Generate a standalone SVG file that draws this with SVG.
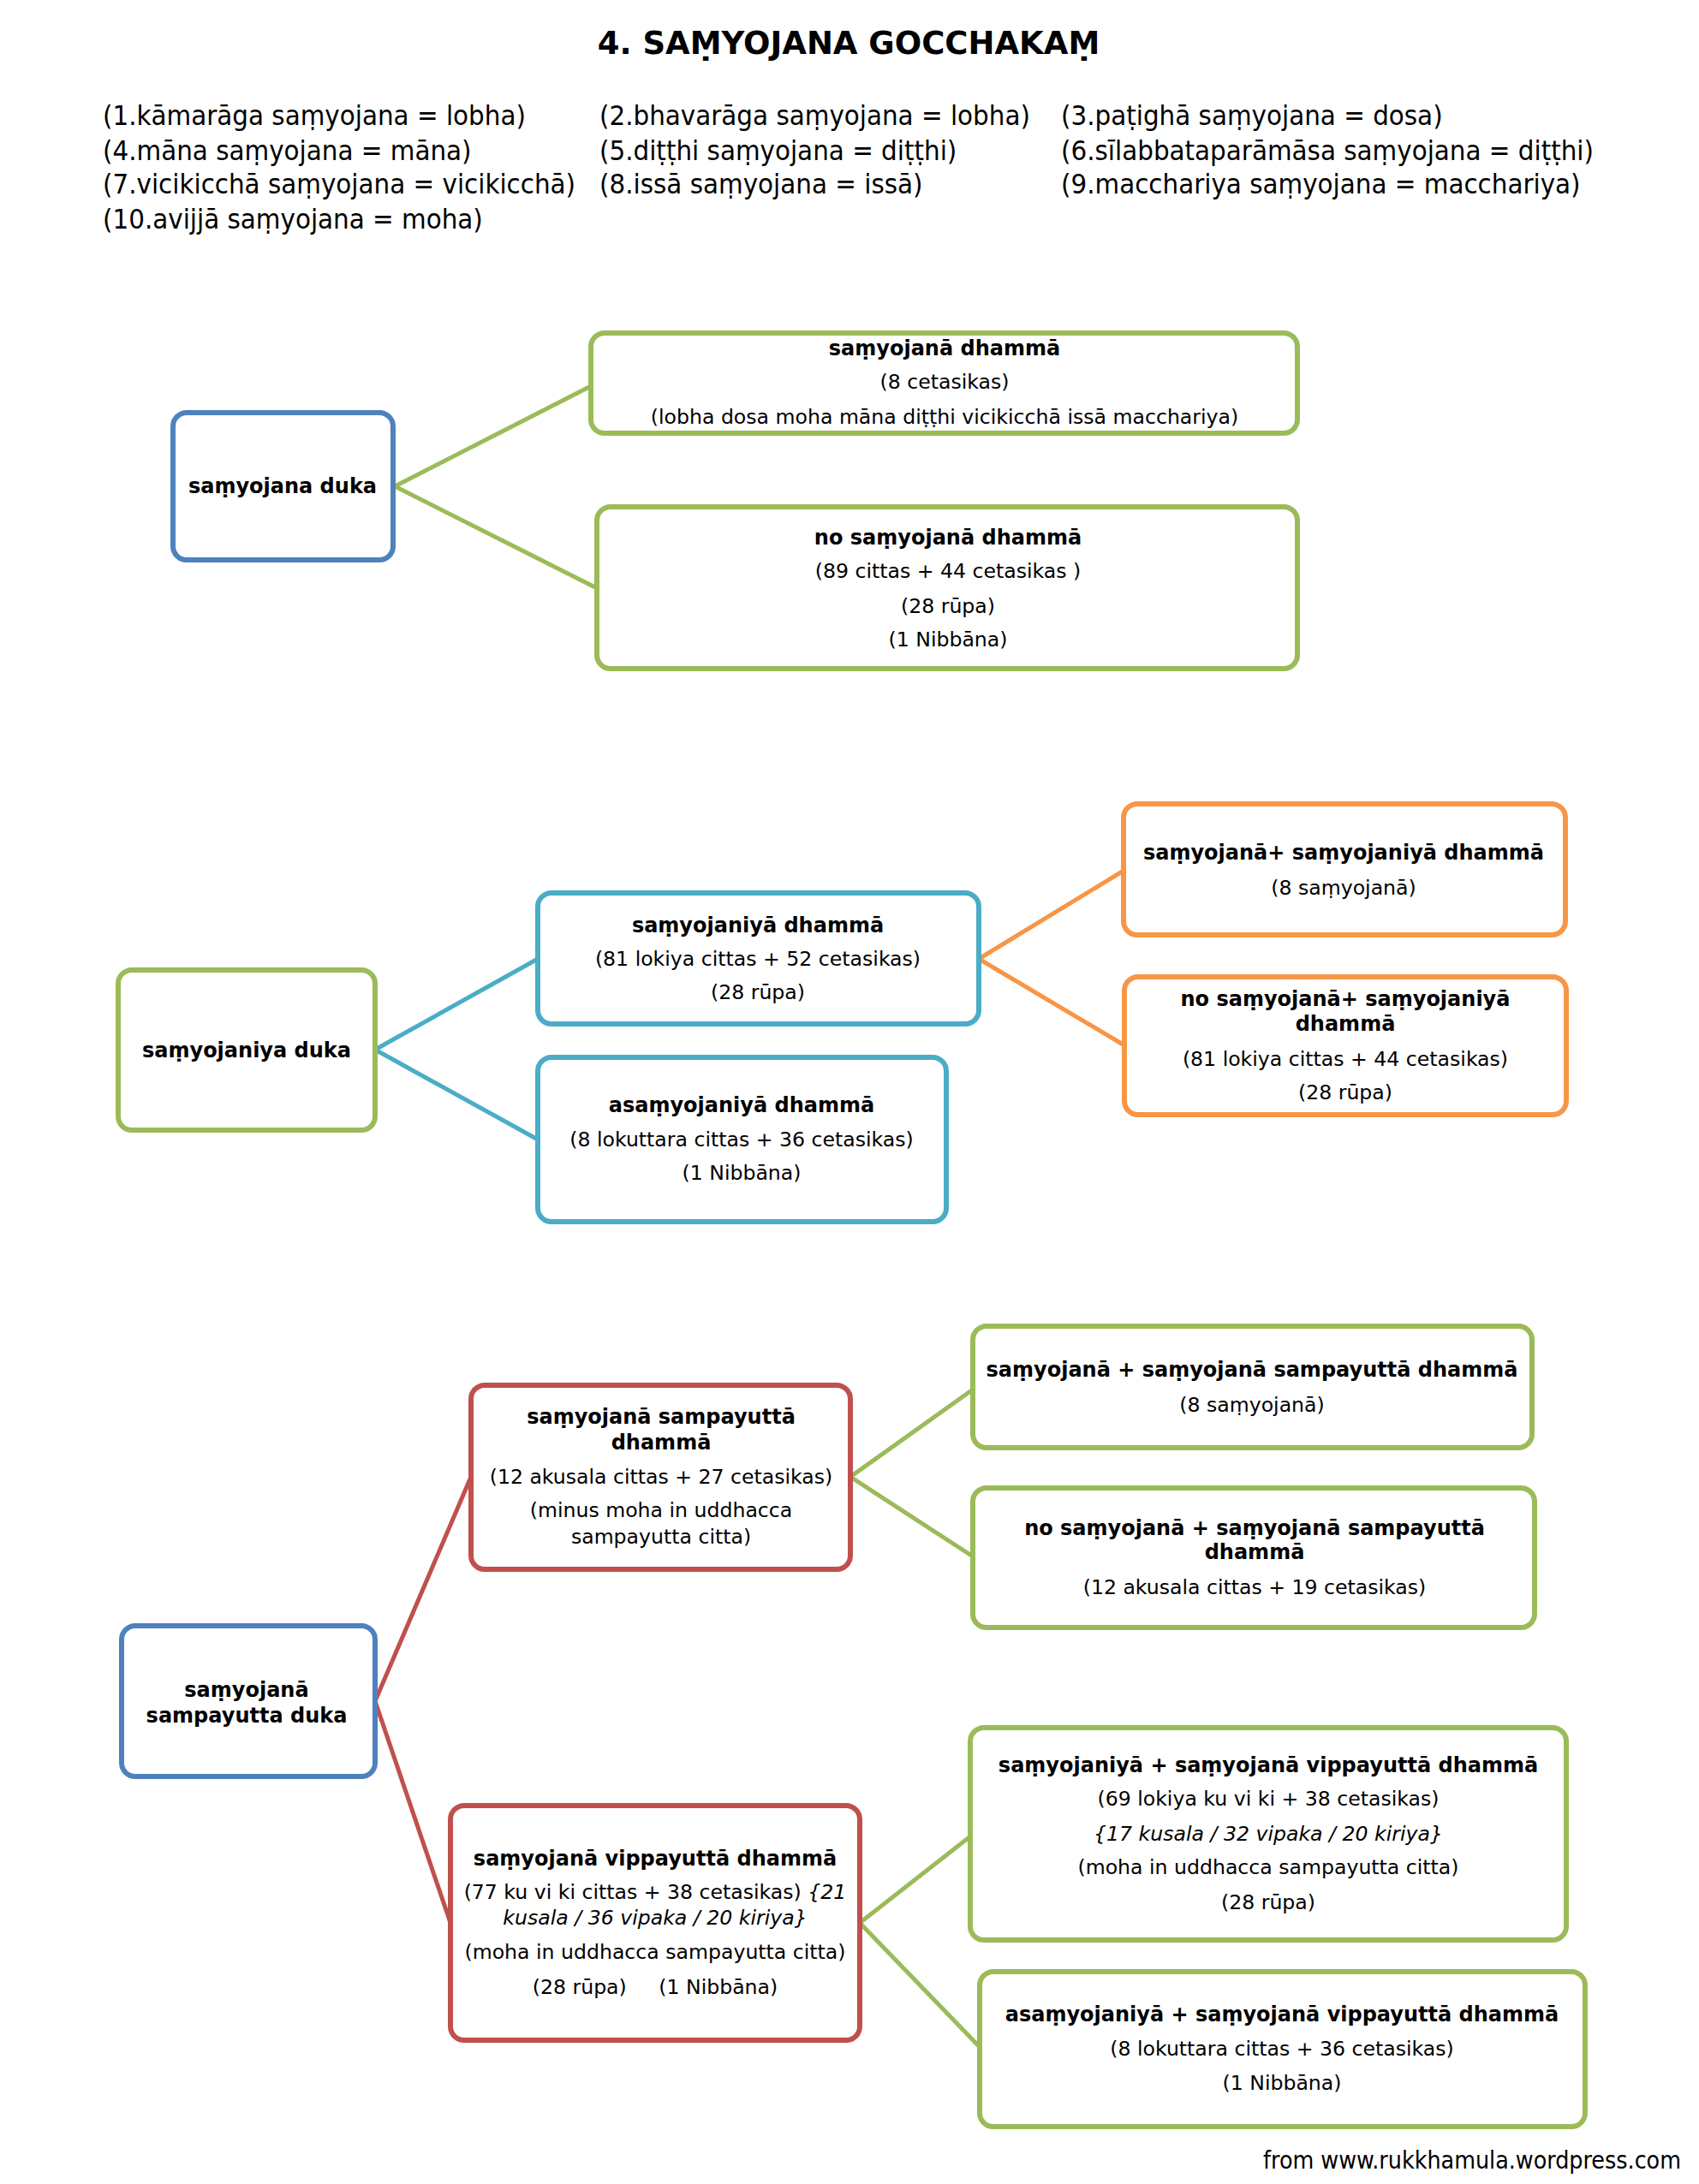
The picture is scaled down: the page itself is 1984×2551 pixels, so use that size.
<svg xmlns="http://www.w3.org/2000/svg" width="1984" height="2551" viewBox="0 0 1984 2551">
<style>
text{font-family:"DejaVu Sans","Liberation Sans",sans-serif;fill:#000}
.t{font-size:23.6px;text-anchor:middle}
.b{font-weight:bold;font-size:24px}
.i{font-style:italic}
.h{font-size:32.7px;font-family:"DejaVu Sans Condensed","DejaVu Sans",sans-serif}
.title{font-size:37px;font-weight:bold;text-anchor:middle}
.foot{font-size:28.3px;text-anchor:end;font-family:"DejaVu Sans Condensed","DejaVu Sans",sans-serif}
rect{fill:#fff;stroke-width:6}
.blue{stroke:#4F81BD}
.green{stroke:#9BBB59}
.teal{stroke:#4BACC6}
.orange{stroke:#F79646}
.red{stroke:#C0504D}
#connectors line{stroke-width:5;stroke-linecap:round}
</style>
<rect x="0" y="0" width="1984" height="2551" style="fill:#fff;stroke:none"/>
<text class="title" x="991" y="63">4. SAṂYOJANA GOCCHAKAṂ</text>
<g id="legend">
<text class="h" x="120" y="146">(1.kāmarāga saṃyojana = lobha)</text>
<text class="h" x="700" y="146">(2.bhavarāga saṃyojana = lobha)</text>
<text class="h" x="1239" y="146">(3.paṭighā saṃyojana = dosa)</text>
<text class="h" x="120" y="187">(4.māna saṃyojana = māna)</text>
<text class="h" x="700" y="187">(5.diṭṭhi saṃyojana = diṭṭhi)</text>
<text class="h" x="1239" y="187">(6.sīlabbataparāmāsa saṃyojana = diṭṭhi)</text>
<text class="h" x="120" y="226">(7.vicikicchā saṃyojana = vicikicchā)</text>
<text class="h" x="700" y="226">(8.issā saṃyojana = issā)</text>
<text class="h" x="1239" y="226">(9.macchariya saṃyojana = macchariya)</text>
<text class="h" x="120" y="267">(10.avijjā saṃyojana = moha)</text>
</g>
<g id="connectors">
<line class="green" x1="461" y1="568" x2="690" y2="451"/>
<line class="green" x1="461" y1="568" x2="697" y2="687"/>
<line class="teal" x1="438" y1="1226" x2="628" y2="1120"/>
<line class="teal" x1="438" y1="1226" x2="628" y2="1331"/>
<line class="orange" x1="1143" y1="1120" x2="1312" y2="1017"/>
<line class="orange" x1="1143" y1="1120" x2="1313" y2="1221"/>
<line class="red" x1="438" y1="1987" x2="550" y2="1725"/>
<line class="red" x1="438" y1="1987" x2="526" y2="2246"/>
<line class="green" x1="993" y1="1725" x2="1136" y2="1623"/>
<line class="green" x1="993" y1="1725" x2="1136" y2="1818"/>
<line class="green" x1="1004" y1="2246" x2="1133" y2="2145"/>
<line class="green" x1="1004" y1="2246" x2="1144" y2="2391"/>
</g>
<g id="n1">
<rect class="blue" x="202" y="482" width="257" height="172" rx="16"/>
<text class="t b" x="330" y="576">saṃyojana duka</text>
</g>
<g id="n2">
<rect class="green" x="690" y="389" width="825" height="117" rx="16"/>
<text class="t b" x="1103" y="415">saṃyojanā dhammā</text>
<text class="t" x="1103" y="454">(8 cetasikas)</text>
<text class="t" x="1103" y="495">(lobha dosa moha māna diṭṭhi vicikicchā issā macchariya)</text>
</g>
<g id="n3">
<rect class="green" x="697" y="592" width="818" height="189" rx="16"/>
<text class="t b" x="1107" y="636">no saṃyojanā dhammā</text>
<text class="t" x="1107" y="675">(89 cittas + 44 cetasikas )</text>
<text class="t" x="1107" y="716">(28 rūpa)</text>
<text class="t" x="1107" y="755">(1 Nibbāna)</text>
</g>
<g id="n4">
<rect class="green" x="138" y="1133" width="300" height="187" rx="16"/>
<text class="t b" x="288" y="1235">saṃyojaniya duka</text>
</g>
<g id="n5">
<rect class="teal" x="628" y="1043" width="515" height="153" rx="16"/>
<text class="t b" x="885" y="1089">saṃyojaniyā dhammā</text>
<text class="t" x="885" y="1128">(81 lokiya cittas + 52 cetasikas)</text>
<text class="t" x="885" y="1167">(28 rūpa)</text>
</g>
<g id="n6">
<rect class="teal" x="628" y="1235" width="477" height="192" rx="16"/>
<text class="t b" x="866" y="1299">asaṃyojaniyā dhammā</text>
<text class="t" x="866" y="1339">(8 lokuttara cittas + 36 cetasikas)</text>
<text class="t" x="866" y="1378">(1 Nibbāna)</text>
</g>
<g id="n7">
<rect class="orange" x="1312" y="939" width="516" height="153" rx="16"/>
<text class="t b" x="1569" y="1004">saṃyojanā+ saṃyojaniyā dhammā</text>
<text class="t" x="1569" y="1045">(8 saṃyojanā)</text>
</g>
<g id="n8">
<rect class="orange" x="1313" y="1141" width="516" height="161" rx="16"/>
<text class="t b" x="1571" y="1175">no saṃyojanā+ saṃyojaniyā</text>
<text class="t b" x="1571" y="1204">dhammā</text>
<text class="t" x="1571" y="1245">(81 lokiya cittas + 44 cetasikas)</text>
<text class="t" x="1571" y="1284">(28 rūpa)</text>
</g>
<g id="n9">
<rect class="blue" x="142" y="1899" width="296" height="176" rx="16"/>
<text class="t b" x="288" y="1982">saṃyojanā</text>
<text class="t b" x="288" y="2012">sampayutta duka</text>
</g>
<g id="n10">
<rect class="red" x="550" y="1618" width="443" height="215" rx="16"/>
<text class="t b" x="772" y="1663">saṃyojanā sampayuttā</text>
<text class="t b" x="772" y="1693">dhammā</text>
<text class="t" x="772" y="1733">(12 akusala cittas + 27 cetasikas)</text>
<text class="t" x="772" y="1772">(minus moha in uddhacca</text>
<text class="t" x="772" y="1803">sampayutta citta)</text>
</g>
<g id="n11">
<rect class="red" x="526" y="2109" width="478" height="274" rx="16"/>
<text class="t b" x="765" y="2179">saṃyojanā vippayuttā dhammā</text>
<text class="t" x="765" y="2218">(77 ku vi ki cittas + 38 cetasikas) <tspan class="i">{21</tspan></text>
<text class="t i" x="765" y="2248">kusala / 36 vipaka / 20 kiriya}</text>
<text class="t" x="765" y="2288">(moha in uddhacca sampayutta citta)</text>
<text class="t" x="765" y="2329" xml:space="preserve">(28 rūpa)     (1 Nibbāna)</text>
</g>
<g id="n12">
<rect class="green" x="1136" y="1549" width="653" height="142" rx="16"/>
<text class="t b" x="1462" y="1608">saṃyojanā + saṃyojanā sampayuttā dhammā</text>
<text class="t" x="1462" y="1649">(8 saṃyojanā)</text>
</g>
<g id="n13">
<rect class="green" x="1136" y="1738" width="656" height="163" rx="16"/>
<text class="t b" x="1465" y="1793">no saṃyojanā + saṃyojanā sampayuttā</text>
<text class="t b" x="1465" y="1821">dhammā</text>
<text class="t" x="1465" y="1862">(12 akusala cittas + 19 cetasikas)</text>
</g>
<g id="n14">
<rect class="green" x="1133" y="2018" width="696" height="248" rx="16"/>
<text class="t b" x="1481" y="2070">saṃyojaniyā + saṃyojanā vippayuttā dhammā</text>
<text class="t" x="1481" y="2109">(69 lokiya ku vi ki + 38 cetasikas)</text>
<text class="t i" x="1481" y="2150">{17 kusala / 32 vipaka / 20 kiriya}</text>
<text class="t" x="1481" y="2189">(moha in uddhacca sampayutta citta)</text>
<text class="t" x="1481" y="2230">(28 rūpa)</text>
</g>
<g id="n15">
<rect class="green" x="1144" y="2303" width="707" height="181" rx="16"/>
<text class="t b" x="1497" y="2361">asaṃyojaniyā + saṃyojanā vippayuttā dhammā</text>
<text class="t" x="1497" y="2401">(8 lokuttara cittas + 36 cetasikas)</text>
<text class="t" x="1497" y="2441">(1 Nibbāna)</text>
</g>
<text class="foot" x="1963" y="2533">from www.rukkhamula.wordpress.com</text>
</svg>
